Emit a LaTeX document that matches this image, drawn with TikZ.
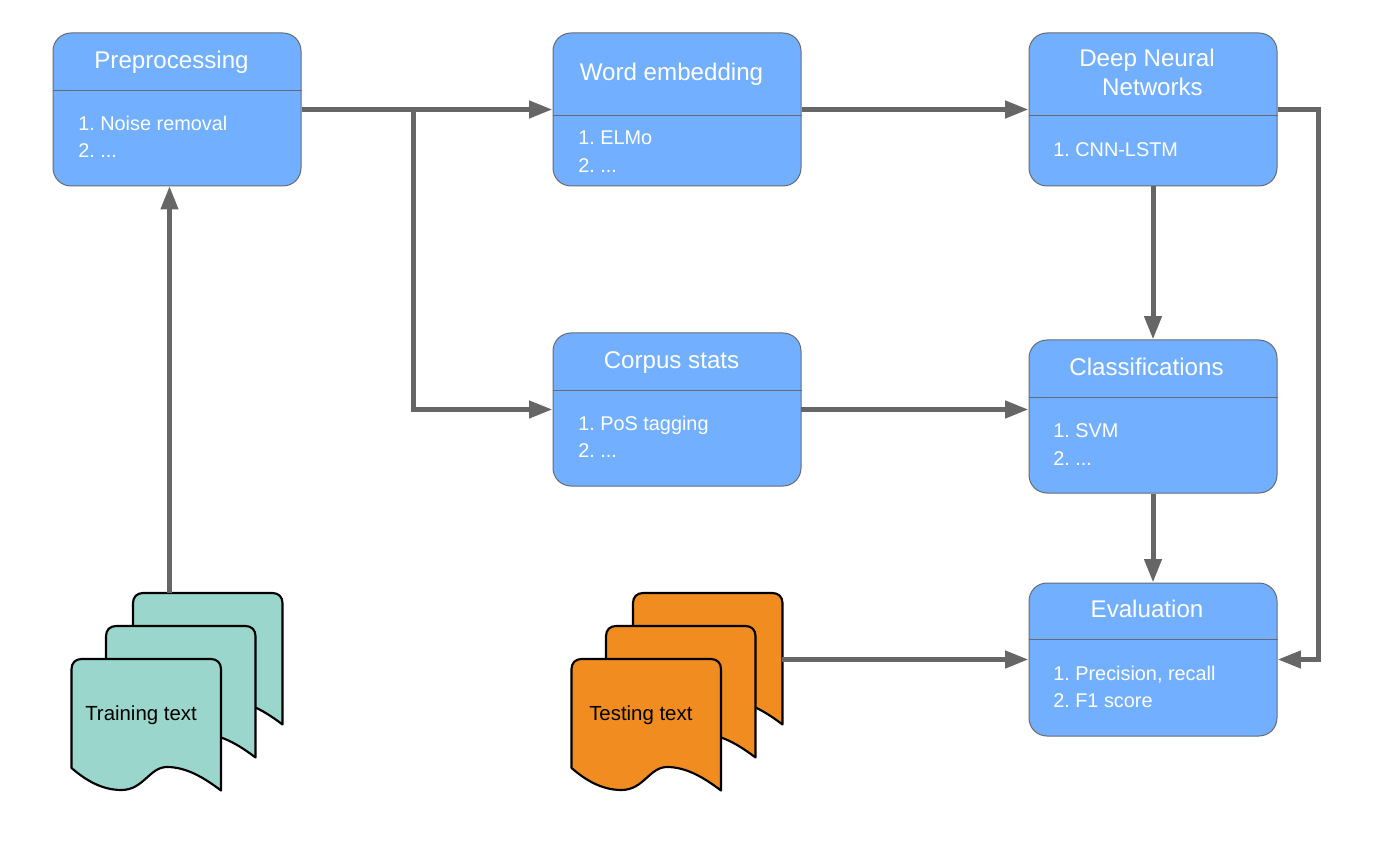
\documentclass[tikz,border=0pt]{standalone}
\usepackage{fontspec}
\setmainfont{Liberation Sans}
\frenchspacing
\usetikzlibrary{arrows.meta}
\definecolor{boxblue}{HTML}{73AFFF}
\definecolor{boxedge}{HTML}{666B73}
\definecolor{linkgray}{HTML}{666666}
\definecolor{docteal}{HTML}{9AD6CB}
\definecolor{docorange}{HTML}{F18D20}
\tikzset{
  x=0.75pt,y=-0.75pt,
  bluebox/.style={draw=boxedge,line width=0.75pt,fill=boxblue,rounded corners=13.5pt,minimum width=186pt,minimum height=114.75pt,inner sep=0pt},
  divider/.style={draw=boxedge,line width=0.75pt},
  titletext/.style={text=white,font=\fontsize{18.1}{21}\selectfont,anchor=base,inner sep=0pt},
  listtext/.style={text=white,font=\fontsize{14.9}{18}\selectfont,anchor=base west,inner sep=0pt},
  doctext/.style={text=black,font=\fontsize{15.3}{18}\selectfont,anchor=base west,inner sep=0pt},
  link/.style={draw=linkgray,line width=3.75pt,-{Triangle[length=17.5pt,width=12.5pt]}},
  docedge/.style={draw=black,line width=1.6pt,line join=round}
}
\newcommand{\docsheet}[4]{% x, y, fill, name
  \path[docedge,fill=#3] (#1,#2+109)
    -- (#1,#2+10) .. controls (#1,#2+4) and (#1+4,#2) .. (#1+10,#2)
    -- (#1+139.5,#2) .. controls (#1+145.5,#2) and (#1+149.5,#2+4) .. (#1+149.5,#2+10)
    -- (#1+149.5,#2+131.5)
    .. controls (#1+133,#2+119) and (#1+115,#2+108) .. (#1+95.5,#2+108)
    .. controls (#1+78,#2+108) and (#1+72,#2+131) .. (#1+50,#2+131)
    .. controls (#1+30,#2+131) and (#1+14,#2+121) .. (#1,#2+109) -- cycle;
  \coordinate (#4) at (#1,#2);
}
\begin{document}
\begin{tikzpicture}
\useasboundingbox[fill=white] (0,0) rectangle (1382,859);

% documents
\docsheet{133}{593}{docteal}{trainback}
\docsheet{106}{626}{docteal}{trainmid}
\docsheet{71.5}{659}{docteal}{trainfront}
\node[doctext] (trainlabel) at (85,720) {Training text};
\docsheet{633}{593}{docorange}{testback}
\docsheet{606}{626}{docorange}{testmid}
\docsheet{571.5}{659}{docorange}{testfront}
\node[doctext] (testlabel) at (589,720) {Testing text};

% boxes
\node[bluebox] (pre) at (177,109.5) {};
\node[bluebox] (word) at (677,109.5) {};
\node[bluebox] (dnn) at (1153,109.5) {};
\node[bluebox] (corpus) at (677,409.5) {};
\node[bluebox] (cls) at (1153,416.5) {};
\node[bluebox] (eval) at (1153,659.5) {};

% dividers
\draw[divider] (pre.west |- 0,90.5) -- (pre.east |- 0,90.5);
\draw[divider] (word.west |- 0,115.5) -- (word.east |- 0,115.5);
\draw[divider] (dnn.west |- 0,115.5) -- (dnn.east |- 0,115.5);
\draw[divider] (corpus.west |- 0,390.5) -- (corpus.east |- 0,390.5);
\draw[divider] (cls.west |- 0,397.5) -- (cls.east |- 0,397.5);
\draw[divider] (eval.west |- 0,639.5) -- (eval.east |- 0,639.5);

% titles
\node[titletext] (pretitle) at (171.5,69) {Preprocessing};
\node[titletext] (wordtitle) at (671.5,81) {Word embedding};
\node[titletext] (dnntitleA) at (1147,67) {Deep Neural};
\node[titletext] (dnntitleB) at (1152.5,96) {Networks};
\node[titletext] (corpustitle) at (671.5,368.5) {Corpus stats};
\node[titletext] (clstitle) at (1146.5,375) {Classifications};
\node[titletext] (evaltitle) at (1147,617.5) {Evaluation};

% lists
\node[listtext] (preA) at (78,131) {1. Noise removal};
\node[listtext] (preB) at (78,158) {2. ...};
\node[listtext] (wordA) at (578,145) {1. ELMo};
\node[listtext] (wordB) at (578,172.5) {2. ...};
\node[listtext] (dnnA) at (1053,157) {1. CNN-LSTM};
\node[listtext] (corpusA) at (578,430) {1. PoS tagging};
\node[listtext] (corpusB) at (578,457.5) {2. ...};
\node[listtext] (clsA) at (1053,437.5) {1. SVM};
\node[listtext] (clsB) at (1053,465) {2. ...};
\node[listtext] (evalA) at (1053,680) {1. Precision, recall};
\node[listtext] (evalB) at (1053,707) {2. F1 score};

% connector waypoints
\coordinate (branch) at (413,109.5);
\coordinate (rail) at (1318,109.5);
\coordinate (railend) at (1318,659.5);
\coordinate (trainout) at (169.5,593);
\coordinate (prein) at (169.5,186);
\coordinate (corpusout) at (801,409.5);
\coordinate (clsin) at (1028.5,409.5);
\coordinate (testout) at (782,659.5);

% connectors
\draw[link] (pre.east) -- (word.west);
\draw[link] (branch) -- (branch |- corpus.west) -- (corpus.west);
\draw[link] (word.east) -- (dnn.west);
\draw[link] (dnn.south) -- (cls.north);
\draw[link] (cls.south) -- (eval.north);
\draw[link] (corpusout) -- (clsin);
\draw[link] (testout) -- (eval.west);
\draw[link] (trainout) -- (prein);
\draw[link] (dnn.east) -- (rail) -- (railend) -- (eval.east);
\end{tikzpicture}
\end{document}
